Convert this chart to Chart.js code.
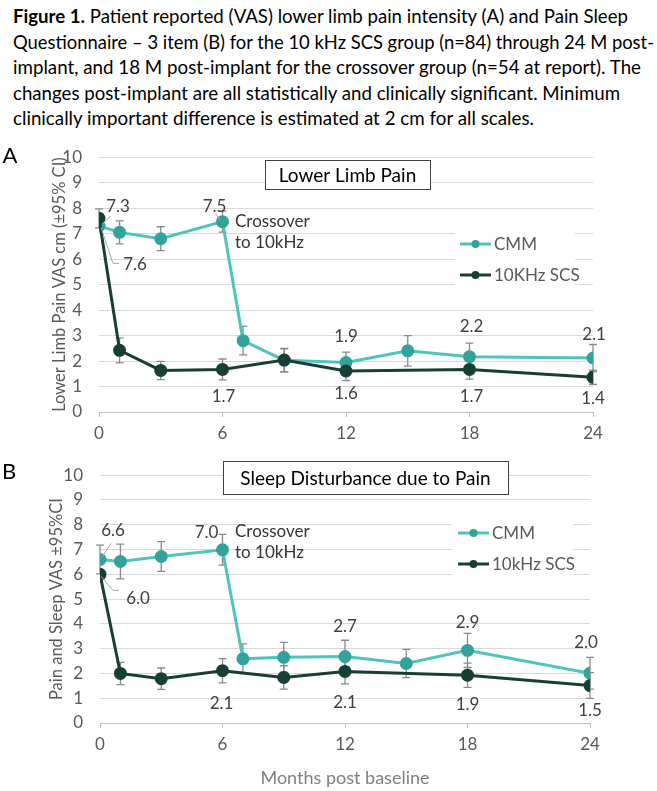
<!DOCTYPE html>
<html lang="en">
<head>
<meta charset="UTF-8">
<title>Figure 1 - VAS lower limb pain and sleep</title>
<script src="https://cdn.jsdelivr.net/npm/chart.js@4.4.2/dist/chart.umd.min.js"></script>
<style>
  body { margin: 0; background: #fff; width: 657px; height: 791px; position: relative; overflow: hidden; font-family: Lato, sans-serif; }
  .caption { position: absolute; left: 13px; top: 3px; font-size: 19px; line-height: 25.5px; color: #000; }
  .caption div { width: max-content; white-space: nowrap; transform-origin: left center; }
  canvas { position: absolute; left: 0; }
  #chartA { top: 130px; }
  #chartB { top: 448px; }
</style>
</head>
<body>
<div class="caption">
  <div data-w="615"><b>Figure 1.</b> Patient reported (VAS) lower limb pain intensity (A) and Pain Sleep</div>
  <div data-w="641">Questionnaire – 3 item (B) for the 10 kHz SCS group (n=84) through 24 M post-</div>
  <div data-w="628">implant, and 18 M post-implant for the crossover group (n=54 at report). The</div>
  <div data-w="607">changes post-implant are all statistically and clinically significant. Minimum</div>
  <div data-w="521">clinically important difference is estimated at 2 cm for all scales.</div>
</div>
<canvas id="chartA" width="657" height="318"></canvas>
<canvas id="chartB" width="657" height="343"></canvas>
<script>
  // months at which each group was measured
  const monthsCMM = [0, 1, 3, 6, 7, 9, 12, 15, 18, 24];
  const monthsSCS = [0, 1, 3, 6, 9, 12, 18, 24];
  const monthTicks = [0, 6, 12, 18, 24];
  const vasTicks = [0, 1, 2, 3, 4, 5, 6, 7, 8, 9, 10];

  // (A) lower limb pain VAS, mean and 95% CI half-width
  const limbCMM   = [7.3, 7.05, 6.8, 7.47, 2.8, 2.03, 1.94, 2.4, 2.17, 2.12];
  const limbCMMci = [0, 0.45, 0.47, 0.41, 0.56, 0.45, 0.41, 0.6, 0.53, 0.53];
  const limbSCS   = [7.6, 2.42, 1.63, 1.67, 2.04, 1.61, 1.67, 1.36];
  const limbSCSci = [0.37, 0.49, 0.36, 0.41, 0.46, 0.38, 0.38, 0.28];

  // (B) pain and sleep VAS
  const sleepCMM   = [6.6, 6.52, 6.72, 6.99, 2.59, 2.65, 2.68, 2.4, 2.93, 2.01];
  const sleepCMMci = [0.58, 0.7, 0.6, 0.62, 0.6, 0.6, 0.66, 0.57, 0.69, 0.64];
  const sleepSCS   = [6.0, 2.0, 1.79, 2.11, 1.84, 2.08, 1.93, 1.51];
  const sleepSCSci = [0, 0.45, 0.43, 0.49, 0.47, 0.5, 0.49, 0.52];

  const TEAL_LINE = '#4fc4ba';
  const TEAL_DOT = '#31a39a';
  const DARK = '#173f36';
  const FONT = 'Lato, sans-serif';

  // squeeze caption lines to the widths of the original
  document.querySelectorAll('.caption div').forEach(d => {
    const w = d.getBoundingClientRect().width;
    d.style.transform = 'scaleX(' + (d.dataset.w / w) + ')';
  });

  const annotate = {
    id: 'annotate',
    beforeDatasetsDraw(chart, args, o) {
      const ctx = chart.ctx, ys = chart.scales.y;
      ctx.save();
      // white boxes behind legend and title
      ctx.fillStyle = '#fff';
      ctx.fillRect(o.legendBox[0], o.legendBox[1], o.legendBox[2], o.legendBox[3]);
      ctx.fillRect(o.titleBox[0], o.titleBox[1], o.titleBox[2], o.titleBox[3]);
      ctx.strokeStyle = '#404040';
      ctx.lineWidth = 1;
      ctx.strokeRect(o.titleBox[0] + 0.5, o.titleBox[1] + 0.5, o.titleBox[2], o.titleBox[3]);
      // error bars
      ctx.strokeStyle = '#8a8a8a';
      ctx.lineWidth = 1.3;
      chart.data.datasets.forEach((ds, d) => {
        const meta = chart.getDatasetMeta(d);
        ds.ci.forEach((c, i) => {
          if (!c) return;
          const v = ds.data[i].y;
          const x = meta.data[i].x;
          const t = ys.getPixelForValue(v + c), b = ys.getPixelForValue(v - c);
          ctx.beginPath();
          ctx.moveTo(x, t); ctx.lineTo(x, b);
          ctx.moveTo(x - 4, t); ctx.lineTo(x + 4, t);
          ctx.moveTo(x - 4, b); ctx.lineTo(x + 4, b);
          ctx.stroke();
        });
      });
      ctx.restore();
    },
    afterDatasetsDraw(chart, args, o) {
      const ctx = chart.ctx;
      ctx.save();
      // panel letter
      ctx.fillStyle = '#000';
      ctx.font = '22px ' + FONT;
      ctx.textAlign = 'center';
      ctx.textBaseline = 'middle';
      ctx.fillText(o.letter, o.letterPos[0], o.letterPos[1]);
      // panel title
      ctx.font = '19px ' + FONT;
      ctx.fillText(o.title, o.titleBox[0] + o.titleBox[2] / 2, o.titleBox[1] + o.titleBox[3] / 2 + 1);
      // crossover note
      ctx.fillStyle = '#333';
      ctx.font = '17px ' + FONT;
      ctx.textAlign = 'left';
      ctx.fillText('Crossover', o.cross[0], o.cross[1]);
      ctx.fillText('to 10kHz', o.cross[0], o.cross[1] + 21);
      // legend
      chart.data.datasets.forEach((ds, d) => {
        const [lx, ly] = o.legend[d];
        ctx.strokeStyle = ds.borderColor;
        ctx.lineWidth = 3;
        ctx.beginPath(); ctx.moveTo(lx, ly); ctx.lineTo(lx + 31, ly); ctx.stroke();
        ctx.fillStyle = ds.pointBackgroundColor;
        ctx.beginPath(); ctx.arc(lx + 15.5, ly, 4, 0, Math.PI * 2); ctx.fill();
        ctx.fillStyle = '#595959';
        ctx.fillText(ds.label, lx + 34, ly + 1);
      });
      // value labels with leader lines
      ctx.textAlign = 'center';
      o.labels.forEach(l => {
        const ds = chart.data.datasets[l.set];
        const pt = chart.getDatasetMeta(l.set).data[l.i];
        if (l.leader) {
          ctx.strokeStyle = '#a6a6a6';
          ctx.lineWidth = 1;
          ctx.beginPath();
          l.leader.forEach((p, k) => k ? ctx.lineTo(pt.x + p[0], pt.y + p[1]) : ctx.moveTo(pt.x + p[0], pt.y + p[1]));
          ctx.stroke();
        }
        ctx.fillStyle = '#404040';
        ctx.fillText(ds.data[l.i].y.toFixed(1), pt.x + l.dx, pt.y + l.dy);
      });
      ctx.restore();
    }
  };

  function makeChart(id, cmm, cmmCi, scs, scsCi, cfg) {
    const tickFont = { family: FONT, size: 17 };
    return new Chart(document.getElementById(id), {
      type: 'line',
      data: {
        datasets: [
          {
            label: 'CMM',
            data: monthsCMM.map((m, i) => ({ x: m, y: cmm[i] })),
            ci: cmmCi,
            borderColor: TEAL_LINE,
            pointBackgroundColor: TEAL_DOT,
            pointBorderColor: TEAL_DOT,
            borderWidth: 3,
            pointRadius: 5,
            order: 2
          },
          {
            label: cfg.scsLabel,
            data: monthsSCS.map((m, i) => ({ x: m, y: scs[i] })),
            ci: scsCi,
            borderColor: DARK,
            pointBackgroundColor: DARK,
            pointBorderColor: DARK,
            borderWidth: 3,
            pointRadius: 5,
            order: 1
          }
        ]
      },
      options: {
        responsive: false,
        animation: false,
        layout: { padding: { top: cfg.top, right: cfg.right, left: 0, bottom: 0 } },
        plugins: {
          legend: { display: false },
          tooltip: { enabled: false },
          annotate: cfg
        },
        scales: {
          x: {
            type: 'linear',
            min: 0,
            max: 24,
            afterBuildTicks: s => { s.ticks = monthTicks.map(v => ({ value: v })); },
            afterFit: s => { s.height = cfg.xh; },
            grid: { drawOnChartArea: false, drawTicks: true, tickLength: 5, color: '#bfbfbf' },
            border: { color: '#bfbfbf' },
            ticks: { color: '#595959', font: tickFont, padding: 6, maxRotation: 0 },
            title: {
              display: !!cfg.xTitle,
              text: cfg.xTitle || '',
              color: '#808080',
              font: { family: FONT, size: 18 },
              padding: { top: 0, bottom: 2 }
            }
          },
          y: {
            min: 0,
            max: 10,
            afterBuildTicks: s => { s.ticks = vasTicks.map(v => ({ value: v })); },
            afterFit: s => { s.width = cfg.left; },
            grid: { color: '#d9d9d9', drawTicks: false },
            border: { display: false },
            ticks: { color: '#595959', font: tickFont, padding: 17 },
            title: {
              display: true,
              text: cfg.yTitle,
              color: '#595959',
              font: { family: FONT, size: 16.5 },
              padding: { top: cfg.yTitlePad, bottom: 0 }
            }
          }
        }
      },
      plugins: [annotate]
    });
  }

  makeChart('chartA', limbCMM, limbCMMci, limbSCS, limbSCSci, {
    scsLabel: '10KHz SCS',
    top: 21, right: 64, left: 99, xh: 36,
    yTitle: 'Lower Limb Pain VAS cm (±95% CI)', yTitlePad: 50,
    letter: 'A', letterPos: [10, 26],
    title: 'Lower Limb Pain', titleBox: [265, 30, 165, 29],
    legendBox: [455, 92, 120, 68], legend: [[460, 114], [460, 145]],
    cross: [235, 92],
    labels: [
      { set: 0, i: 0, dx: 19, dy: -19, leader: [[3, -2], [12, -10]] },
      { set: 1, i: 0, dx: 36, dy: 46, leader: [[2, 9], [14, 45], [20, 45]] },
      { set: 0, i: 3, dx: -8, dy: -15, leader: [[-7, -8], [-2, -1]] },
      { set: 1, i: 3, dx: 1, dy: 27 },
      { set: 0, i: 6, dx: 0, dy: -26 },
      { set: 1, i: 5, dx: 0, dy: 23 },
      { set: 0, i: 8, dx: 2, dy: -30 },
      { set: 1, i: 6, dx: 2, dy: 27 },
      { set: 0, i: 9, dx: 1, dy: -23 },
      { set: 1, i: 7, dx: 0, dy: 21 }
    ]
  });

  makeChart('chartB', sleepCMM, sleepCMMci, sleepSCS, sleepSCSci, {
    scsLabel: '10kHz SCS',
    top: 10, right: 67, left: 100, xh: 68,
    xTitle: 'Months post baseline',
    yTitle: 'Pain and Sleep VAS ±95%CI', yTitlePad: 47,
    letter: 'B', letterPos: [9, 24],
    title: 'Sleep Disturbance due to Pain', titleBox: [223, 13, 285, 33],
    legendBox: [452, 74, 121, 56], legend: [[458, 85], [458, 116]],
    cross: [235, 84],
    labels: [
      { set: 0, i: 0, dx: 13, dy: -29, leader: [[1, -1], [11, -16]] },
      { set: 1, i: 0, dx: 38, dy: 24, leader: [[1, 2], [13, 16], [19, 16]] },
      { set: 0, i: 3, dx: -16, dy: -17 },
      { set: 1, i: 3, dx: -1, dy: 33 },
      { set: 0, i: 6, dx: 0, dy: -30 },
      { set: 1, i: 5, dx: 0, dy: 31 },
      { set: 0, i: 8, dx: 0, dy: -28 },
      { set: 1, i: 6, dx: 0, dy: 29 },
      { set: 0, i: 9, dx: -4, dy: -31 },
      { set: 1, i: 7, dx: 0, dy: 25 }
    ]
  });
</script>
</body>
</html>
